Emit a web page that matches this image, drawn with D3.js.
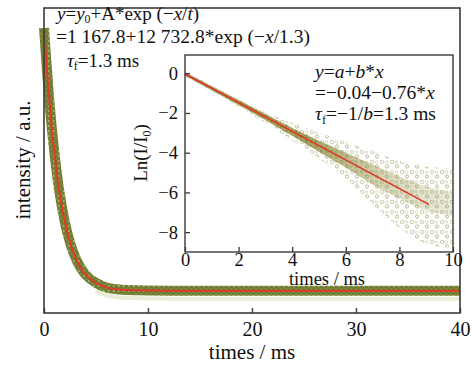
<!DOCTYPE html>
<html>
<head>
<meta charset="utf-8">
<script src="https://cdn.jsdelivr.net/npm/d3@7"></script>
<style>
  body { margin: 0; background: #fff; }
  text { font-family: "Liberation Serif", "DejaVu Serif", serif; fill: #111; }
</style>
</head>
<body>
<div class="container"></div>
<script>
// main decay curve (time in ms, intensity in a.u.)
const decayTimes = [0, 0.25, 0.5, 0.75, 1, 1.25, 1.5, 2, 2.5, 3, 3.5, 4, 5, 6, 7, 8, 10, 15, 20, 25, 30, 35, 40];
const decayIntensity = [13900, 12100, 10450, 9050, 7850, 6800, 5900, 4500, 3500, 2800, 2300, 1950, 1550, 1330, 1240, 1200, 1175, 1168, 1168, 1168, 1168, 1168, 1168];

// inset: ln(I/I0) scatter envelopes
const lnTimes = [0, 1, 2, 3, 4, 5, 6, 7, 8, 9, 10];
const lnDenseUpper = [0.05, -0.65, -1.35, -2.05, -2.75, -3.4, -4.0, -4.6, -5.2, -5.7, -6.0];
const lnDenseLower = [-0.12, -0.85, -1.6, -2.35, -3.15, -3.95, -4.75, -5.6, -6.3, -6.9, -7.2];
const lnSparseUpper = [0.06, -0.6, -1.3, -1.95, -2.5, -3.0, -3.45, -3.9, -4.4, -4.7, -4.8];
const lnSparseLower = [-0.14, -0.9, -1.7, -2.5, -3.4, -4.3, -5.3, -6.6, -7.8, -8.6, -8.8];
// inset linear fit (red line)
const lnFitTimes = [0, 9.1];
const lnFitValues = [-0.04, -6.6];

const mainTicks = [0, 10, 20, 30, 40];
const insetXTicks = [0, 2, 4, 6, 8, 10];
const insetYTicks = [0, -2, -4, -6, -8];

const W = 476, H = 367;
const main = {left: 44, right: 460, top: 8, bottom: 313};
const inset = {left: 185, right: 453, top: 55, bottom: 252};

const svg = d3.select(".container").append("svg")
    .attr("width", W)
    .attr("height", H);

const defs = svg.append("defs");

// speckle patterns for the scattered data points
function speckle(id, size, bg, dots) {
  const p = defs.append("pattern")
      .attr("id", id)
      .attr("patternUnits", "userSpaceOnUse")
      .attr("width", size)
      .attr("height", size);
  if (bg) p.append("rect").attr("width", size).attr("height", size).attr("fill", bg);
  dots.forEach(d => {
    p.append("circle")
      .attr("cx", d[0]).attr("cy", d[1]).attr("r", d[2])
      .attr("fill", "none")
      .attr("stroke", d[3])
      .attr("stroke-width", 0.7);
  });
}
speckle("bandDense", 5, "#7e8c3c", [[1.2, 1.3, 1.1, "#56661f"], [3.7, 3.6, 1.1, "#5c6b22"], [3.8, 1, 0.5, "#c3c98a"]]);
speckle("insetDense", 5, "#a1a65e", [[1.2, 1.3, 1.1, "#6a7a2c"], [3.7, 3.6, 1.1, "#b98447"]]);
speckle("insetSparse", 10, null, [[2, 2, 1.7, "#b5b68a"], [7, 6.5, 1.6, "#9ba262"], [6.5, 2, 1.2, "#cfcfaa"]]);

// fade the dense inset band towards long times
const fade = defs.append("linearGradient")
    .attr("id", "fade")
    .attr("gradientUnits", "userSpaceOnUse")
    .attr("x1", inset.left).attr("x2", inset.right)
    .attr("y1", 0).attr("y2", 0);
fade.append("stop").attr("offset", 0).attr("stop-color", "#fff");
fade.append("stop").attr("offset", 0.45).attr("stop-color", "#fff");
fade.append("stop").attr("offset", 0.75).attr("stop-color", "#666");
fade.append("stop").attr("offset", 1).attr("stop-color", "#333");
defs.append("mask").attr("id", "fadeMask")
    .attr("maskUnits", "userSpaceOnUse")
    .attr("x", 0).attr("y", 0).attr("width", W).attr("height", H)
  .append("rect")
    .attr("x", 0).attr("y", 0).attr("width", W).attr("height", H)
    .attr("fill", "url(#fade)");

const x = d3.scaleLinear().domain([0, 40]).range([main.left, main.right]);
const y = d3.scaleLinear().domain([90, 14870]).range([main.bottom, main.top]);

const decay = decayTimes.map((t, i) => [t, decayIntensity[i]]);
const decayLine = d3.line()
    .x(d => x(d[0]))
    .y(d => y(d[1]))
    .curve(d3.curveMonotoneX);

// faint speckle just under the plateau, scatter band, fit line
svg.append("path")
    .attr("d", decayLine(decay.filter(d => d[0] >= 5)))
    .attr("fill", "none")
    .attr("stroke", "#e9ecd6")
    .attr("stroke-width", 4)
    .attr("transform", "translate(0,8)");
svg.append("path")
    .attr("d", decayLine(decay))
    .attr("fill", "none")
    .attr("stroke", "url(#bandDense)")
    .attr("stroke-width", 10);
svg.append("path")
    .attr("d", decayLine(decay))
    .attr("fill", "none")
    .attr("stroke", "#e0382b")
    .attr("stroke-width", 2);

// main frame
svg.append("rect")
    .attr("x", main.left).attr("y", main.top)
    .attr("width", main.right - main.left)
    .attr("height", main.bottom - main.top)
    .attr("fill", "none")
    .attr("stroke", "#3a3a3a")
    .attr("stroke-width", 1.6);

const xAxis = svg.append("g")
    .attr("transform", `translate(0,${main.bottom})`)
    .call(d3.axisBottom(x).tickValues(mainTicks).tickSizeInner(-5).tickSizeOuter(0).tickPadding(9));
xAxis.select(".domain").remove();
xAxis.selectAll("line").attr("stroke", "#3a3a3a").attr("stroke-width", 1.4);
xAxis.selectAll("text").attr("font-size", 20).attr("font-family", "Liberation Serif").attr("fill", "#111");

svg.append("text")
    .attr("x", 252).attr("y", 359)
    .attr("text-anchor", "middle")
    .attr("font-size", 21)
    .text("times / ms");
svg.append("text")
    .attr("transform", "translate(30,160) rotate(-90)")
    .attr("text-anchor", "middle")
    .attr("font-size", 21)
    .text("intensity / a.u.");

// rich text with italics and subscripts
function richText(g, px, py, parts, size) {
  const t = g.append("text").attr("x", px).attr("y", py).attr("font-size", size);
  let shifted = 0;
  parts.forEach(p => {
    const s = t.append("tspan").text(p[0]);
    if (p[1] === "i") s.attr("font-style", "italic");
    if (p[1] === "sub") {
      s.attr("font-size", size * 0.62).attr("dy", size * 0.18);
      shifted = size * 0.18;
    } else if (shifted) {
      s.attr("dy", -shifted);
      shifted = 0;
    }
  });
}

richText(svg, 57, 20, [["y", "i"], ["="], ["y", "i"], ["0", "sub"], ["+A*exp (−"], ["x", "i"], ["/"], ["t", "i"], [")"]], 19);
richText(svg, 56, 43, [["=1 167.8+12 732.8*exp (−"], ["x", "i"], ["/1.3)"]], 19.5);
richText(svg, 67, 67, [["τ", "i"], ["f", "sub"], ["=1.3 ms"]], 19);

// ---- inset ----
const ix = d3.scaleLinear().domain([0, 10]).range([inset.left, inset.right]);
const iy = d3.scaleLinear().domain([-9, 0.92]).range([inset.bottom, inset.top]);

svg.append("rect")
    .attr("x", inset.left).attr("y", inset.top)
    .attr("width", inset.right - inset.left)
    .attr("height", inset.bottom - inset.top)
    .attr("fill", "#fff");

const band = (up, lo) => d3.area()
    .x((d, i) => ix(lnTimes[i]))
    .y0((d, i) => iy(lo[i]))
    .y1((d, i) => iy(up[i]))
    .curve(d3.curveMonotoneX)(lnTimes);

svg.append("path")
    .attr("d", band(lnSparseUpper, lnSparseLower))
    .attr("fill", "url(#insetSparse)");
svg.append("path")
    .attr("d", band(lnDenseUpper, lnDenseLower))
    .attr("fill", "url(#insetDense)")
    .attr("mask", "url(#fadeMask)");

svg.append("path")
    .attr("d", d3.line().x((d, i) => ix(lnFitTimes[i])).y(d => iy(d))(lnFitValues))
    .attr("fill", "none")
    .attr("stroke", "#e0382b")
    .attr("stroke-width", 1.6);

svg.append("rect")
    .attr("x", inset.left).attr("y", inset.top)
    .attr("width", inset.right - inset.left)
    .attr("height", inset.bottom - inset.top)
    .attr("fill", "none")
    .attr("stroke", "#3a3a3a")
    .attr("stroke-width", 1.4);

const ixAxis = svg.append("g")
    .attr("transform", `translate(0,${inset.bottom})`)
    .call(d3.axisBottom(ix).tickValues(insetXTicks).tickSizeInner(-5).tickSizeOuter(0).tickPadding(1));
const iyAxis = svg.append("g")
    .attr("transform", `translate(${inset.left},0)`)
    .call(d3.axisLeft(iy).tickValues(insetYTicks).tickSizeInner(-5).tickSizeOuter(0).tickPadding(7));
[ixAxis, iyAxis].forEach(a => {
  a.select(".domain").remove();
  a.selectAll("line").attr("stroke", "#3a3a3a").attr("stroke-width", 1.3);
  a.selectAll("text").attr("font-size", 18.5).attr("font-family", "Liberation Serif").attr("fill", "#111");
});

svg.append("text")
    .attr("x", 327).attr("y", 285)
    .attr("text-anchor", "middle")
    .attr("font-size", 18.5)
    .text("times / ms");

const lnLabel = svg.append("text")
    .attr("transform", "translate(147,153) rotate(-90)")
    .attr("text-anchor", "middle")
    .attr("font-size", 19);
lnLabel.append("tspan").text("Ln(I/I");
lnLabel.append("tspan").text("0").attr("font-size", 12).attr("dy", 4);
lnLabel.append("tspan").text(")").attr("dy", -4);

richText(svg, 315, 78, [["y", "i"], ["="], ["a", "i"], ["+"], ["b", "i"], ["*"], ["x", "i"]], 19.5);
richText(svg, 315, 99, [["=−0.04−0.76*"], ["x", "i"]], 19.5);
richText(svg, 315, 120, [["τ", "i"], ["f", "sub"], ["=−1/"], ["b", "i"], ["=1.3 ms"]], 19.5);
</script>
</body>
</html>
